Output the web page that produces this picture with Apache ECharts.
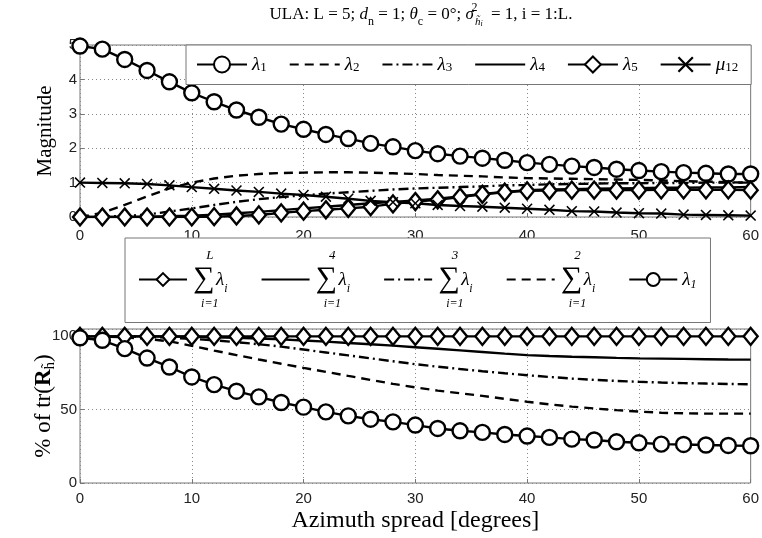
<!DOCTYPE html>
<html>
<head>
<meta charset="utf-8">
<script src="https://cdn.jsdelivr.net/npm/echarts@6/dist/echarts.min.js"></script>
<style>
  html, body { margin: 0; padding: 0; background: #fff; }
  #chart { width: 762px; height: 538px; }
</style>
</head>
<body>
<div id="chart"></div>
<script>
// azimuth spread in degrees (one point every 2 degrees)
var azimuth = [0,2,4,6,8,10,12,14,16,18,20,22,24,26,28,30,32,34,36,38,40,42,44,46,48,50,52,54,56,58,60];

// top panel: eigenvalue magnitudes
var lambda1 = [4.97,4.88,4.58,4.26,3.93,3.61,3.35,3.11,2.90,2.70,2.55,2.40,2.28,2.14,2.04,1.93,1.84,1.77,1.71,1.65,1.58,1.53,1.48,1.44,1.39,1.35,1.32,1.29,1.27,1.25,1.25];
var lambda2 = [0.00,0.12,0.35,0.60,0.83,1.00,1.12,1.20,1.25,1.28,1.29,1.30,1.30,1.29,1.27,1.25,1.22,1.20,1.18,1.15,1.13,1.12,1.11,1.10,1.09,1.08,1.06,1.04,1.03,1.01,1.00];
var lambda3 = [0.00,0.01,0.03,0.07,0.16,0.25,0.35,0.44,0.52,0.58,0.63,0.68,0.72,0.76,0.80,0.83,0.85,0.87,0.89,0.92,0.93,0.95,0.96,0.97,0.98,0.98,0.99,0.99,1.00,1.00,1.00];
var lambda4 = [0.00,0.00,0.00,0.01,0.02,0.04,0.07,0.11,0.15,0.20,0.25,0.30,0.35,0.40,0.44,0.48,0.53,0.60,0.67,0.73,0.78,0.80,0.81,0.82,0.83,0.84,0.85,0.85,0.86,0.86,0.87];
var lambda5 = [0.00,0.00,0.00,0.00,0.00,0.00,0.01,0.03,0.06,0.12,0.17,0.21,0.25,0.30,0.38,0.45,0.50,0.58,0.66,0.72,0.76,0.77,0.78,0.78,0.78,0.78,0.79,0.79,0.79,0.79,0.78];
var mu12    = [1.00,0.99,0.98,0.96,0.92,0.87,0.82,0.77,0.73,0.68,0.64,0.59,0.53,0.47,0.43,0.40,0.35,0.32,0.30,0.27,0.24,0.21,0.17,0.16,0.13,0.11,0.10,0.07,0.06,0.05,0.04];

// bottom panel: cumulative share of the trace, in %
var sumL   = [100,100,100,100,100,100,100,100,100,100,100,100,100,100,100,100,100,100,100,100,100,100,100,100,100,100,100,100,100,100,100];
var sum4   = [100,100,100,100,99.9,99.7,99.4,99.0,98.5,97.9,97.2,96.4,95.5,94.6,93.7,92.6,91.5,90.4,89.3,88.2,87.2,86.6,86.1,85.7,85.3,85.0,84.8,84.6,84.4,84.2,84.1];
var sum3   = [100,100,99.9,99.6,99.1,98.3,97.3,96.0,94.6,93.0,91.0,89.0,87.0,85.0,83.0,81.0,79.3,77.7,76.2,74.8,73.5,72.3,71.2,70.3,69.6,69.0,68.5,68.1,67.8,67.5,67.3];
var sum2   = [100,99.8,99.3,98.3,96.6,93.5,90.3,87.2,84.2,81.3,78.5,75.8,73.0,70.3,67.6,65.2,63.0,61.2,59.4,57.4,55.4,53.6,52.1,50.8,49.7,48.7,47.9,47.5,47.3,47.3,47.3];
var share1 = [99.0,97.3,91.6,85.2,79.1,72.3,67.1,62.6,58.7,54.9,51.7,48.5,45.8,43.5,41.7,39.5,37.2,35.6,34.5,33.1,32.0,31.1,29.9,29.3,28.1,27.4,26.5,26.3,25.9,25.6,25.4];

// legend texts (rich text markup)
var topNames = ['lam1','lam2','lam3','lam4','lam5','mu12'];
var topLabels = ['{l|λ}{s|1}','{l|λ}{s|2}','{l|λ}{s|3}','{l|λ}{s|4}','{l|λ}{s|5}','{l|μ}{s|12}'];
var botNames = ['sumL','sum4','sum3','sum2','pct1'];
var botUpper = ['L','4','3','2'];
var noMarker = ['lam2','lam3','lam4','sum4','sum3','sum2'];

var serif = 'Liberation Serif';
var sans = 'Liberation Sans';
var crossPath = 'path://M0,1L1,0L5,4L9,0L10,1L6,5L10,9L9,10L5,6L1,10L0,9L4,5Z';

function pairs(ys) {
  return azimuth.map(function (x, i) { return [x, ys[i]]; });
}

// legend entries; plain lines get no marker in their icon
function legendItems(names) {
  return names.map(function (n) {
    return noMarker.indexOf(n) >= 0 ? { name: n, itemStyle: { opacity: 0 } } : { name: n };
  });
}

function line(name, ys, grid, opts) {
  var s = {
    name: name,
    type: 'line',
    xAxisIndex: grid,
    yAxisIndex: grid,
    data: pairs(ys),
    symbol: 'none',
    symbolSize: 15,
    lineStyle: { color: '#000', width: 2.4, type: 'solid' },
    itemStyle: { color: '#fff', borderColor: '#000', borderWidth: 2.4 },
    emphasis: { disabled: true },
    animation: false
  };
  for (var k in opts) s[k] = opts[k];
  return s;
}

var chart = echarts.init(document.getElementById('chart'));

var gridLine = { show: true, lineStyle: { color: '#888', width: 1, type: [1, 3] } };
var tickStyle = { fontFamily: sans, fontSize: 15, color: '#222' };

var subRich = {
  n: { fontFamily: serif, fontSize: 23, lineHeight: 28, color: '#000' },
  b: { fontFamily: serif, fontSize: 23, fontWeight: 'bold', lineHeight: 28, color: '#000' },
  s: { fontFamily: serif, fontSize: 15, lineHeight: 15, verticalAlign: 'bottom', color: '#000' }
};

var option = {
  animation: false,
  backgroundColor: '#fff',
  title: {
    left: 416, top: -3, textAlign: 'center',
    text: '{n|ULA: L = 5; }{i|d}{s|n}{n| = 1; }{i|θ}{s|c}{n| = 0°; }{i|σ}{p|2}{h|h̃}{hi|i}{n| = 1, i = 1:L.}',
    textStyle: {
      fontWeight: 'normal',
      rich: {
        n: { fontFamily: serif, fontSize: 17, fontWeight: 'normal', lineHeight: 26, color: '#000' },
        i: { fontFamily: serif, fontSize: 17, fontWeight: 'normal', fontStyle: 'italic', lineHeight: 26, color: '#000' },
        s: { fontFamily: serif, fontSize: 12, fontWeight: 'normal', lineHeight: 12, verticalAlign: 'bottom', color: '#000' },
        p: { fontFamily: serif, fontSize: 12, fontWeight: 'normal', lineHeight: 14, verticalAlign: 'top', width: 1, color: '#000' },
        h: { fontFamily: serif, fontSize: 11, fontWeight: 'normal', fontStyle: 'italic', lineHeight: 10, verticalAlign: 'bottom', color: '#000' },
        hi: { fontFamily: serif, fontSize: 8, fontWeight: 'normal', fontStyle: 'italic', lineHeight: 7, verticalAlign: 'bottom', padding: [0, 4, 0, 0], color: '#000' }
      }
    }
  },
  grid: [
    { left: 80, top: 45, width: 673, height: 172, show: true, borderColor: '#777', borderWidth: 1, backgroundColor: 'transparent' },
    { left: 80, top: 329, width: 674, height: 154, show: true, borderColor: '#777', borderWidth: 1, backgroundColor: 'transparent' }
  ],
  xAxis: [
    {
      type: 'value', gridIndex: 0, min: 0, max: 60, interval: 10,
      axisLine: { show: false },
      axisTick: { show: true, inside: true, length: 4, lineStyle: { color: '#777' } },
      axisLabel: Object.assign({ margin: 11 }, tickStyle),
      splitLine: gridLine
    },
    {
      type: 'value', gridIndex: 1, min: 0, max: 60, interval: 10,
      axisLine: { show: false },
      axisTick: { show: true, inside: true, length: 4, lineStyle: { color: '#777' } },
      axisLabel: Object.assign({ margin: 8 }, tickStyle),
      splitLine: gridLine,
      name: 'Azimuth spread [degrees]',
      nameLocation: 'middle', nameGap: 26,
      nameTextStyle: { fontFamily: serif, fontSize: 24, color: '#000' }
    }
  ],
  yAxis: [
    {
      type: 'value', gridIndex: 0, min: 0, max: 5, interval: 1,
      axisLine: { show: false },
      axisTick: { show: true, inside: true, length: 4, lineStyle: { color: '#777' } },
      axisLabel: Object.assign({ margin: 3 }, tickStyle),
      splitLine: gridLine,
      name: 'Magnitude',
      nameLocation: 'middle', nameGap: 24,
      nameMoveOverlap: false,
      nameTextStyle: { fontFamily: serif, fontSize: 21, color: '#000' }
    },
    {
      type: 'value', gridIndex: 1, min: 0, max: 105, interval: 50,
      axisLine: { show: false },
      axisTick: { show: true, inside: true, length: 4, lineStyle: { color: '#777' } },
      axisLabel: Object.assign({ margin: 3, formatter: function (v) { return v % 50 === 0 ? String(v) : ''; } }, tickStyle),
      splitLine: gridLine,
      name: '{n|% of tr(}{b|R}{s|h̃}{n|)}',
      nameLocation: 'middle', nameGap: 22,
      nameMoveOverlap: false,
      nameTextStyle: { rich: subRich }
    }
  ],
  legend: [
    {
      data: legendItems(topNames),
      left: 186, top: 45,
      itemWidth: 50, itemHeight: 20, itemGap: 22,
      padding: [10, 13, 10, 10],
      backgroundColor: '#fff', borderColor: '#777', borderWidth: 1,
      selectedMode: false,
      formatter: function (name) { return topLabels[topNames.indexOf(name)]; },
      textStyle: {
        rich: {
          l: { fontFamily: serif, fontSize: 19, fontStyle: 'italic', lineHeight: 20, color: '#000' },
          s: { fontFamily: serif, fontSize: 13, lineHeight: 12, verticalAlign: 'bottom', color: '#000' }
        }
      }
    },
    {
      data: legendItems(botNames),
      left: 125, top: 238,
      itemWidth: 48, itemHeight: 16, itemGap: 33,
      padding: [11, 14, 13, 13],
      backgroundColor: '#fff', borderColor: '#777', borderWidth: 1,
      selectedMode: false,
      formatter: function (name) {
        var k = botNames.indexOf(name);
        if (k === 4) return '{l|λ}{s|1}';
        return '{up|' + botUpper[k] + '}\n{sig|∑}{l|λ}{s|i}\n{lo|i=1}';
      },
      textStyle: {
        rich: {
          up: { fontFamily: serif, fontSize: 13, fontStyle: 'italic', lineHeight: 18, width: 24, align: 'center', color: '#000' },
          sig: { fontFamily: serif, fontSize: 30, lineHeight: 30, width: 24, align: 'center', color: '#000' },
          lo: { fontFamily: serif, fontSize: 12, fontStyle: 'italic', lineHeight: 18, width: 24, align: 'center', color: '#000' },
          l: { fontFamily: serif, fontSize: 19, fontStyle: 'italic', lineHeight: 22, color: '#000' },
          s: { fontFamily: serif, fontSize: 12, fontStyle: 'italic', lineHeight: 12, verticalAlign: 'bottom', color: '#000' }
        }
      }
    }
  ],
  series: [
    line('lam1', lambda1, 0, { symbol: 'circle' }),
    line('lam2', lambda2, 0, { lineStyle: { color: '#000', width: 2.4, type: [9, 6] } }),
    line('lam3', lambda3, 0, { lineStyle: { color: '#000', width: 2.4, type: [10, 4, 2, 4] } }),
    line('lam4', lambda4, 0, {}),
    line('lam5', lambda5, 0, { symbol: 'diamond', symbolSize: [14, 17] }),
    line('mu12', mu12, 0, { symbol: crossPath, symbolSize: 11, itemStyle: { color: '#000', borderWidth: 0 } }),

    line('sumL', sumL, 1, { symbol: 'diamond', symbolSize: [14, 17] }),
    line('sum4', sum4, 1, {}),
    line('sum3', sum3, 1, { lineStyle: { color: '#000', width: 2.4, type: [10, 4, 2, 4] } }),
    line('sum2', sum2, 1, { lineStyle: { color: '#000', width: 2.4, type: [9, 6] } }),
    line('pct1', share1, 1, { symbol: 'circle' })
  ]
};

chart.setOption(option);
window.addEventListener('resize', function () { chart.resize(); });
</script>
</body>
</html>
